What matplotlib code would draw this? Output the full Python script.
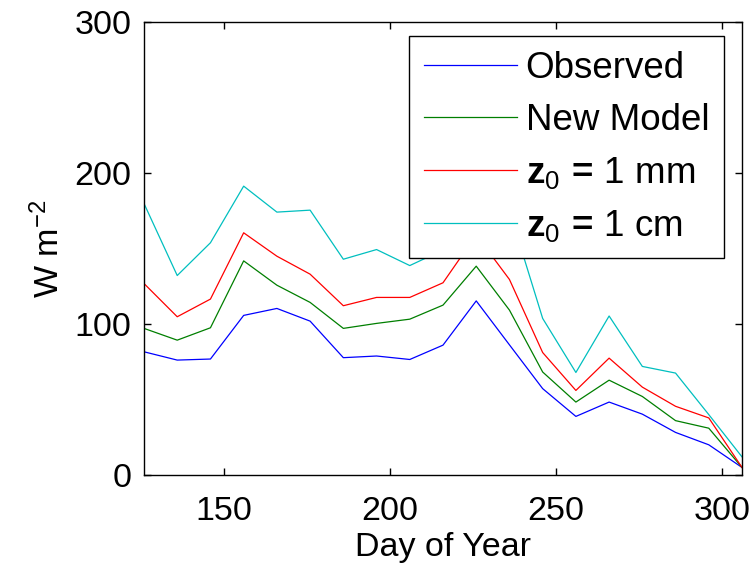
import numpy as np
import matplotlib
matplotlib.use("Agg")
import matplotlib.pyplot as plt

plt.rcParams['font.family'] = ['Liberation Sans', 'DejaVu Sans']
plt.rcParams['mathtext.fontset'] = 'custom'
plt.rcParams['mathtext.rm'] = 'Liberation Sans'
plt.rcParams['mathtext.bf'] = 'Liberation Sans:bold'
plt.rcParams['mathtext.it'] = 'Liberation Sans:italic'

days = [126, 136, 146, 156, 166, 176, 186, 196, 206, 216,
        226, 236, 246, 256, 266, 276, 286, 296, 306]
observed = [81.6, 76.1, 76.8, 105.7, 110.3, 101.9, 77.7, 78.8, 76.5, 86.0,
            115.3, 86.2, 57.2, 38.8, 48.3, 40.3, 28.2, 20.0, 5.0]
new_model = [97.1, 89.3, 97.5, 141.8, 125.7, 114.3, 97.1, 100.4, 103.2, 112.5,
             138.3, 109.2, 68.2, 48.3, 62.8, 52.0, 36.0, 31.0, 5.0]
z0_1mm = [126.8, 104.8, 116.5, 160.4, 144.9, 133.0, 112.1, 117.6, 117.6, 127.3,
          159.0, 129.5, 81.1, 56.0, 77.4, 58.2, 45.5, 37.8, 5.0]
z0_1cm = [179.8, 132.1, 153.8, 191.3, 174.1, 175.4, 142.9, 149.3, 138.7, 149.0,
          190.0, 175.0, 103.7, 67.9, 105.3, 71.9, 67.5, 40.0, 12.0]

labels = ['Observed', 'New Model',
          r'$\mathbf{z}_\mathregular{0}$ $\!\mathbf{=}\!$ 1 mm',
          r'$\mathbf{z}_\mathregular{0}$ $\!\mathbf{=}\!$ 1 cm']
colors = ['#0000ff', '#007f00', '#ff0000', '#00bfbf']

fig = plt.figure(figsize=(7.54, 5.67), dpi=100)
ax = fig.add_axes([144/754, 1-475/567, 598/754, 453/567])

for y, c, lab in zip([observed, new_model, z0_1mm, z0_1cm], colors, labels):
    ax.plot(days, y, color=c, lw=0.9, label=lab)

ax.set_xlim(126, 306)
ax.set_ylim(0, 300)
ax.set_xticks([150, 200, 250, 300])
ax.set_yticks([0, 100, 200, 300])
ax.tick_params(direction='in', length=5, width=1, top=True, right=True,
               labelsize=24.5)
ax.tick_params(axis='x', pad=15)
ax.tick_params(axis='y', pad=9)
for s in ax.spines.values():
    s.set_linewidth(1.0)

ax.set_xlabel('Day of Year', fontsize=24.5, labelpad=4)
ax.set_ylabel(r'W m$^{\mathregular{-2}}$', fontsize=24.5, labelpad=6)

leg = ax.legend(loc='upper right', bbox_to_anchor=(0.970, 0.969),
                borderaxespad=0, fontsize=26.5, handlelength=2.53,
                handletextpad=0.245, labelspacing=0.46, borderpad=0.4,
                fancybox=False, framealpha=1, edgecolor='black')
leg.get_frame().set_linewidth(1.0)

fig.savefig('out.png', dpi=100)
